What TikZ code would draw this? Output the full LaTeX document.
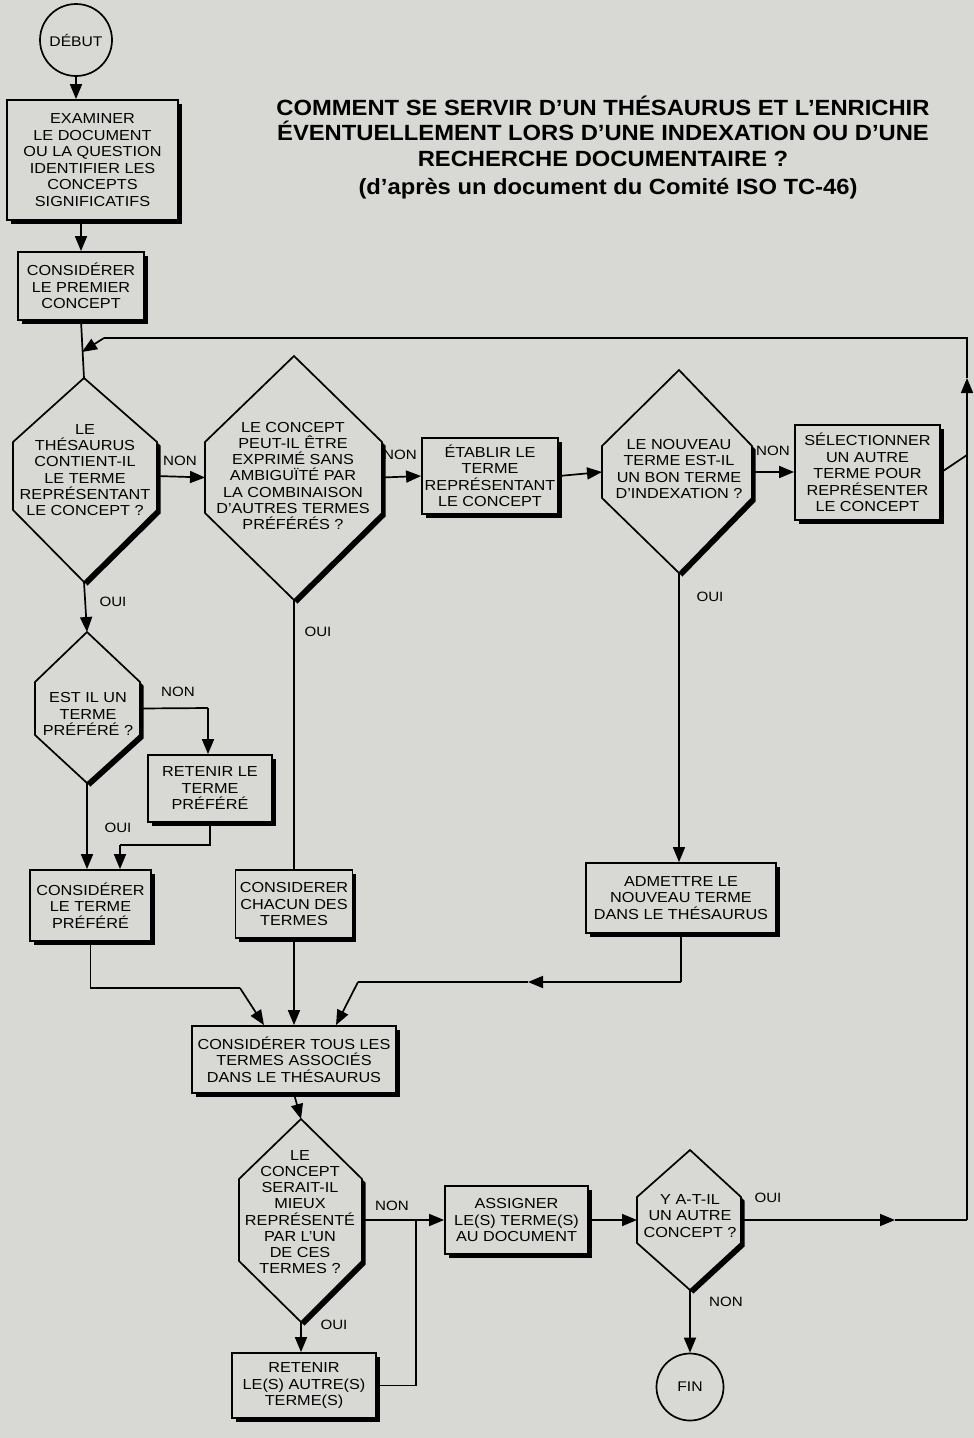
\documentclass[tikz,border=0pt]{standalone}
\usepackage{fontspec}
\newfontfamily\bx{Liberation Sans}[FakeStretch=1.12]
\newfontfamily\ttlf{Liberation Sans}[FakeStretch=1.08]
\usetikzlibrary{arrows.meta,shadows}
\definecolor{bg}{RGB}{216,216,212}
\tikzset{
  box/.style={draw, line width=1.8pt, fill=bg, align=center, inner sep=0pt,
    font=\bx\fontsize{14.5}{16.5}\selectfont,
    drop shadow={shadow xshift=3.5pt, shadow yshift=-3.5pt, fill=black, opacity=1}},
  txt/.style={align=center, inner sep=0pt, font=\bx\fontsize{14.5}{16.2}\selectfont},
  lbl/.style={inner sep=0pt, font=\bx\fontsize{13.5}{15}\selectfont},
  ln/.style={line width=1.7pt},
  arr/.style={line width=1.7pt, -{Triangle[length=15pt,width=12pt]}},
  term/.style={circle, draw, line width=1.7pt, fill=bg, inner sep=0pt,
    font=\bx\fontsize{14}{16}\selectfont},
}
% name, cx, left, right, top, side-top, side-bottom, bottom
\newcommand\myhex[8]{%
  \fill[black] (#2+3.5,#5+3.5) -- (#4+3.5,#6+3.5) -- (#4+3.5,#7+3.5) -- (#2+3.5,#8+3.5)
     -- (#3+3.5,#7+3.5) -- (#3+3.5,#6+3.5) -- cycle;
  \draw[line width=1.7pt, fill=bg, line join=miter] (#2,#5) -- (#4,#6) -- (#4,#7) -- (#2,#8)
     -- (#3,#7) -- (#3,#6) -- cycle;
  \coordinate (#1t) at (#2,#5);
  \coordinate (#1b) at (#2,#8);
  \coordinate (#1l) at (#3,{(#6+#7)/2});
  \coordinate (#1r) at (#4,{(#6+#7)/2});
}
\begin{document}
\begin{tikzpicture}[x=1pt,y=-1pt]
\useasboundingbox (0,0) rectangle (974,1438);
\fill[bg] (0,0) rectangle (974,1438);

% title
\node[align=center, inner sep=0pt, font=\ttlf\bfseries\fontsize{22}{25.5}\selectfont] (title) at (603,131)
  {COMMENT SE SERVIR D’UN THÉSAURUS ET L’ENRICHIR\\ÉVENTUELLEMENT LORS D’UNE INDEXATION OU D’UNE\\RECHERCHE DOCUMENTAIRE ?};
\node[inner sep=0pt, font=\ttlf\bfseries\fontsize{22}{25}\selectfont] (subtitle) at (608,189)
  {(d’après un document du Comité ISO TC-46)};

% start
\node[term, minimum size=72pt] (debut) at (76,40) {DÉBUT};
\node[box, minimum width=171pt, minimum height=120pt] (exam) at (92.5,160)
  {EXAMINER\\LE DOCUMENT\\OU LA QUESTION\\IDENTIFIER LES\\CONCEPTS\\SIGNIFICATIFS};
\node[box, minimum width=126pt, minimum height=68pt] (prem) at (81,286)
  {CONSIDÉRER\\LE PREMIER\\CONCEPT};

% decisions
\myhex{d1}{84}{13}{157}{378}{442}{510}{582}
\node[txt] (q1) at (85,470) {LE\\THÉSAURUS\\CONTIENT-IL\\LE TERME\\REPRÉSENTANT\\LE CONCEPT ?};
\myhex{d2}{294}{205}{382}{356}{442}{513}{600}
\node[txt] (q2) at (293,476) {LE CONCEPT\\PEUT-IL ÊTRE\\EXPRIMÉ SANS\\AMBIGUÏTÉ PAR\\LA COMBINAISON\\D’AUTRES TERMES\\PRÉFÉRÉS ?};
\node[box, minimum width=136pt, minimum height=76pt] (etab) at (490,476)
  {ÉTABLIR LE\\TERME\\REPRÉSENTANT\\LE CONCEPT};
\myhex{d3}{679}{602}{752}{370}{446}{498}{573}
\node[txt] (q3) at (679,469) {LE NOUVEAU\\TERME EST-IL\\UN BON TERME\\D’INDEXATION ?};
\node[box, minimum width=145pt, minimum height=95pt] (sel) at (867.5,472.5)
  {SÉLECTIONNER\\UN AUTRE\\TERME POUR\\REPRÉSENTER\\LE CONCEPT};

\myhex{d4}{87}{35}{140}{632}{682}{735}{783}
\node[txt] (q4) at (88,714) {EST IL UN\\TERME\\PRÉFÉRÉ ?};
\node[box, minimum width=124pt, minimum height=67pt] (ret1) at (210,788.5)
  {RETENIR LE\\TERME\\PRÉFÉRÉ};
\node[box, minimum width=121pt, minimum height=71pt] (cterm) at (90.5,905.5)
  {CONSIDÉRER\\LE TERME\\PRÉFÉRÉ};
\node[box, minimum width=117pt, minimum height=68pt] (chac) at (294,904)
  {CONSIDERER\\CHACUN DES\\TERMES};
\node[box, minimum width=190pt, minimum height=70pt] (adm) at (681,898)
  {ADMETTRE LE\\NOUVEAU TERME\\DANS LE THÉSAURUS};
\node[box, minimum width=204pt, minimum height=67pt] (tous) at (294,1059.5)
  {CONSIDÉRER TOUS LES\\TERMES ASSOCIÉS\\DANS LE THÉSAURUS};

\myhex{d5}{301}{239}{362}{1119}{1179}{1261}{1322}
\node[txt] (q5) at (300,1212) {LE\\CONCEPT\\SERAIT-IL\\MIEUX\\REPRÉSENTÉ\\PAR L’UN\\DE CES\\TERMES ?};
\node[box, minimum width=144pt, minimum height=65pt] (ret2) at (304,1385.5)
  {RETENIR\\LE(S) AUTRE(S)\\TERME(S)};
\node[box, minimum width=143pt, minimum height=68pt] (assig) at (516.5,1220)
  {ASSIGNER\\LE(S) TERME(S)\\AU DOCUMENT};
\myhex{d6}{690}{637}{741}{1150}{1197}{1243}{1290}
\node[txt] (q6) at (690,1216) {Y A-T-IL\\UN AUTRE\\CONCEPT ?};
\node[term, minimum size=67pt] (fin) at (690,1387) {FIN};

% helper coordinates
\coordinate (join) at (82,352);
\coordinate (rA) at (895,1220);
\coordinate (rB) at (967,1220);
\coordinate (rC) at (967,378);
\coordinate (rD) at (967,338);
\coordinate (rE) at (104,338);
\coordinate (sj) at (967,455);
\coordinate (n4) at (208,708);
\coordinate (r1a) at (210,845);
\coordinate (r1b) at (120,845);
\coordinate (c1) at (90.5,988);
\coordinate (c2) at (240,988);
\coordinate (a1) at (681,982);
\coordinate (a2) at (528,982);
\coordinate (a3) at (358,982);
\coordinate (j5) at (416,1220);
\coordinate (r2a) at (416,1385.5);

% connectors
\draw[arr] (debut) -- (debut |- exam.north);
\draw[arr] (prem.north |- exam.south) -- (prem.north);
\draw[ln] (prem.south) -- (d1t);
\draw[arr] (d1r) -- (d2l);
\draw[arr] (d2r) -- (etab.west);
\draw[arr] (etab.east) -- (d3l);
\draw[arr] (d3r) -- (d3r -| sel.west);
\draw[ln] (sel.east) -- (sj);
\draw[arr] (d1b) -- (d4t);
\draw[ln] (d4r) -- (n4);
\draw[arr] (n4) -- (n4 |- ret1.north);
\draw[arr] (d4b) -- (d4b |- cterm.north);
\draw[ln] (ret1.south) -- (r1a) -- (r1b);
\draw[arr] (r1b) -- (r1b |- cterm.north);
\draw[ln] (cterm.south) -- (c1) -- (c2);
\draw[arr] (c2) -- ([xshift=-30pt]tous.north);
\draw[ln] (d2b) -- (d2b |- chac.north);
\draw[arr] (chac.south) -- (chac.south |- tous.north);
\draw[arr] (d3b) -- (d3b |- adm.north);
\draw[ln] (adm.south) -- (a1);
\draw[arr] (a1) -- (a2);
\draw[ln] (a2) -- (a3);
\draw[arr] (a3) -- ([xshift=42pt]tous.north);
\draw[arr] (tous.south) -- (d5t);
\draw[ln] (d5r) -- (j5);
\draw[arr] (j5) -- (assig.west);
\draw[ln] (ret2.east) -- (r2a) -- (j5);
\draw[arr] (d5b) -- (d5b |- ret2.north);
\draw[arr] (assig.east) -- (d6l);
\draw[arr] (d6r) -- (rA);
\draw[ln] (rA) -- (rB);
\draw[arr] (rB) -- (rC);
\draw[ln] (rC) -- (rD) -- (rE);
\draw[arr] (rE) -- (join);
\draw[arr] (d6b) -- (fin.north);

% labels
\node[lbl] (l1) at (180,461) {NON};
\node[lbl] (l2) at (400,455) {NON};
\node[lbl] (l3) at (773,451) {NON};
\node[lbl] (l4) at (113,602) {OUI};
\node[lbl] (l5) at (178,692) {NON};
\node[lbl] (l6) at (118,828) {OUI};
\node[lbl] (l7) at (318,632) {OUI};
\node[lbl] (l8) at (710,597) {OUI};
\node[lbl] (l9) at (392,1206) {NON};
\node[lbl] (l10) at (334,1325) {OUI};
\node[lbl] (l11) at (768,1198) {OUI};
\node[lbl] (l12) at (726,1302) {NON};
\end{tikzpicture}
\end{document}
